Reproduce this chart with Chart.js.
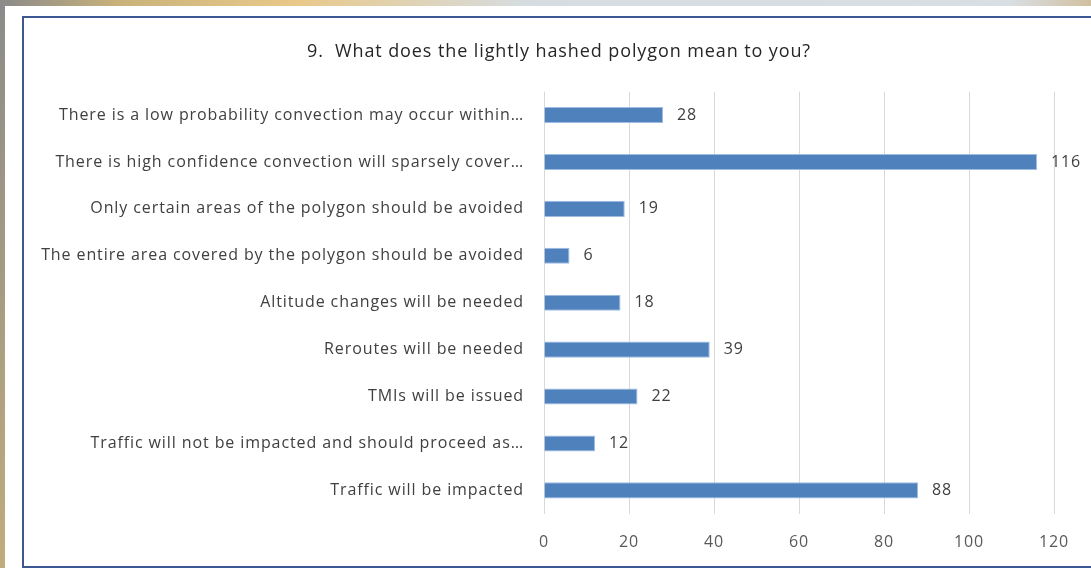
<!DOCTYPE html>
<html>
<head>
<meta charset="utf-8">
<script src="https://cdn.jsdelivr.net/npm/chart.js@4/dist/chart.umd.min.js"></script>
<style>
  html, body { margin: 0; padding: 0; width: 1091px; height: 568px; overflow: hidden; }
  body { background: linear-gradient(100deg, #8a8a8a 0%, #c9b27a 10%, #e9c98a 25%, #d5dde3 45%, #d9dee2 85%, #c79a4a 100%); position: relative; }
  #white { position: absolute; left: 5px; top: 6px; right: 0; bottom: 0; background: #ffffff; }
  #box { position: absolute; left: 22px; top: 16px; width: 1080px; height: 548px; border: 2px solid #3b5892; background: #ffffff; }
  #wrap { position: absolute; left: 0; top: 0; width: 1131px; height: 568px; }
</style>
</head>
<body>
<div id="white"></div>
<div id="box"></div>
<div id="wrap"><canvas id="c" width="1131" height="568"></canvas></div>
<script>
const titleText = "9.  What does the lightly hashed polygon mean to you?";
const categories = [
  "There is a low probability convection may occur within…",
  "There is high confidence convection will sparsely cover…",
  "Only certain areas of the polygon should be avoided",
  "The entire area covered by the polygon should be avoided",
  "Altitude changes will be needed",
  "Reroutes will be needed",
  "TMIs will be issued",
  "Traffic will not be impacted and should proceed as…",
  "Traffic will be impacted"
];
const values = [28, 116, 19, 6, 18, 39, 22, 12, 88];
const xTicks = [0, 20, 40, 60, 80, 100, 120];

const FONT = "'Open Sans', 'Liberation Sans', sans-serif";
const SPACING = '0.9px';

const spacingPlugin = {
  id: 'spacing',
  beforeUpdate(chart) { chart.ctx.letterSpacing = SPACING; },
  beforeLayout(chart) { chart.ctx.letterSpacing = SPACING; },
  beforeDraw(chart) { chart.ctx.letterSpacing = SPACING; }
};

const valueLabels = {
  id: 'valueLabels',
  afterDatasetsDraw(chart) {
    const ctx = chart.ctx;
    const meta = chart.getDatasetMeta(0);
    ctx.save();
    ctx.letterSpacing = SPACING;
    ctx.font = "16px " + FONT;
    ctx.fillStyle = "#404040";
    ctx.textAlign = "left";
    ctx.textBaseline = "middle";
    meta.data.forEach((bar, i) => {
      ctx.fillText(String(values[i]), bar.x + 14, bar.y);
    });
    ctx.restore();
  }
};

new Chart(document.getElementById('c'), {
  type: 'bar',
  data: {
    labels: categories,
    datasets: [{
      data: values,
      backgroundColor: '#4f81bd',
      borderColor: '#9dbde3',
      borderWidth: 1,
      barPercentage: 0.7,
      categoryPercentage: 0.49
    }]
  },
  options: {
    indexAxis: 'y',
    responsive: false,
    animation: false,
    devicePixelRatio: 1,
    layout: { padding: { left: 24, right: 37, top: 0, bottom: 1 } },
    plugins: {
      legend: { display: false },
      tooltip: { enabled: false },
      title: {
        display: true,
        text: titleText,
        color: '#262626',
        font: { family: FONT, size: 18, weight: 'normal' },
        padding: { top: 41, bottom: 29 }
      }
    },
    scales: {
      x: {
        min: 0, max: 120,
        afterBuildTicks(scale) { scale.ticks = xTicks.map(v => ({ value: v })); },
        grid: { color: '#d9d9d9', lineWidth: 1, tickLength: 4, drawTicks: true, tickColor: 'rgba(0,0,0,0)' },
        border: { display: false },
        ticks: { color: '#595959', font: { family: FONT, size: 16 }, padding: 15 }
      },
      y: {
        grid: { display: false },
        border: { display: false },
        afterFit(scale) { scale.width = 544 - 24; },
        ticks: { color: '#404040', font: { family: FONT, size: 16 }, padding: 12, autoSkip: false }
      },
      yRight: {
        type: 'category',
        labels: categories,
        position: 'right',
        display: true,
        grid: { display: false },
        border: { display: false },
        ticks: { display: false },
        afterFit(scale) { scale.width = 1131 - 37 - 1054; }
      }
    }
  },
  plugins: [spacingPlugin, valueLabels]
});
</script>
</body>
</html>
